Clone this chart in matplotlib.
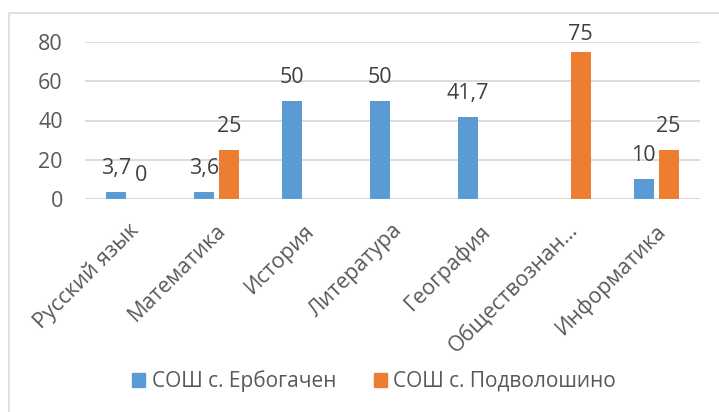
import numpy as np
import matplotlib
matplotlib.use("Agg")
import matplotlib.pyplot as plt
import matplotlib.transforms as mtransforms
from matplotlib.patches import Rectangle

# данные
subjects = ["Русский язык", "Математика", "История", "Литература",
            "География", "Обществознан…", "Информатика"]
erbogachen = [3.7, 3.6, 50, 50, 41.7, None, 10]
podvoloshino = [0, 25, None, None, None, 75, 25]
erbogachen_labels = ["3,7", "3,6", "50", "50", "41,7", "", "10"]
podvoloshino_labels = ["0", "25", "", "", "", "75", "25"]
series_names = ["СОШ с. Ербогачен", "СОШ с. Подволошино"]

blue = "#5B9BD5"
orange = "#ED7D31"
grid_col = "#D9D9D9"
tick_col = "#595959"
label_col = "#404040"

plt.rcParams['font.family'] = ['Open Sans', 'DejaVu Sans']

fig = plt.figure(figsize=(7.19, 4.12), dpi=100)
# рамка диаграммы (правый и нижний край за пределами картинки)
fig.patches.append(Rectangle((9 / 719, -0.1), 1.2, 1.1 - 13 / 412, transform=fig.transFigure,
                             fill=False, edgecolor=grid_col, linewidth=1.2))

ax = fig.add_axes([85 / 719, 1 - 199 / 412, 615 / 719, 157 / 412])

x = np.arange(len(subjects))
w = 0.227
off = 0.142

def clean(vals):
    return [np.nan if v is None else v for v in vals]

ax.bar(x - off, clean(erbogachen), w, color=blue, zorder=3)
ax.bar(x + off, clean(podvoloshino), w, color=orange, zorder=3)

lift = 9.2
for i in range(len(subjects)):
    for vals, labs, dx in ((erbogachen, erbogachen_labels, -off),
                           (podvoloshino, podvoloshino_labels, off)):
        if vals[i] is None:
            continue
        y = min(vals[i] + lift, 81)
        ax.text(x[i] + dx, y, labs[i], ha="center", va="baseline",
                fontsize=15.5, color=label_col, zorder=4)

ax.set_xlim(-0.5, len(subjects) - 0.5)
ax.set_ylim(0, 80)
ax.set_yticks([0, 20, 40, 60, 80])
ax.yaxis.grid(True, color=grid_col, linewidth=1.3, zorder=0)
ax.set_axisbelow(True)
for s in ax.spines.values():
    s.set_visible(False)
ax.axhline(0, color=grid_col, linewidth=1.3, zorder=1)

ax.tick_params(axis="y", length=0, pad=16, labelsize=15.5, labelcolor=tick_col)
ax.tick_params(axis="x", length=0, pad=15, labelsize=15.5, labelcolor=tick_col)
ax.set_xticks(x)
ax.set_xticklabels(subjects, rotation=45, ha="right", va="top",
                   rotation_mode="anchor")
shift = mtransforms.ScaledTranslation(-1 / 100, 0, fig.dpi_scale_trans)
for lab in ax.get_xticklabels():
    lab.set_transform(lab.get_transform() + shift)

handles = [Rectangle((0, 0), 1, 1, color=blue), Rectangle((0, 0), 1, 1, color=orange)]
fig.legend(handles, series_names, loc="center", bbox_to_anchor=(374 / 719, 1 - 381 / 412),
           ncol=2, frameon=False, fontsize=15, labelcolor=tick_col,
           handlelength=0.65, handleheight=0.65, handletextpad=0.3, columnspacing=1.8)

fig.savefig("out.png", dpi=100, facecolor="white")
